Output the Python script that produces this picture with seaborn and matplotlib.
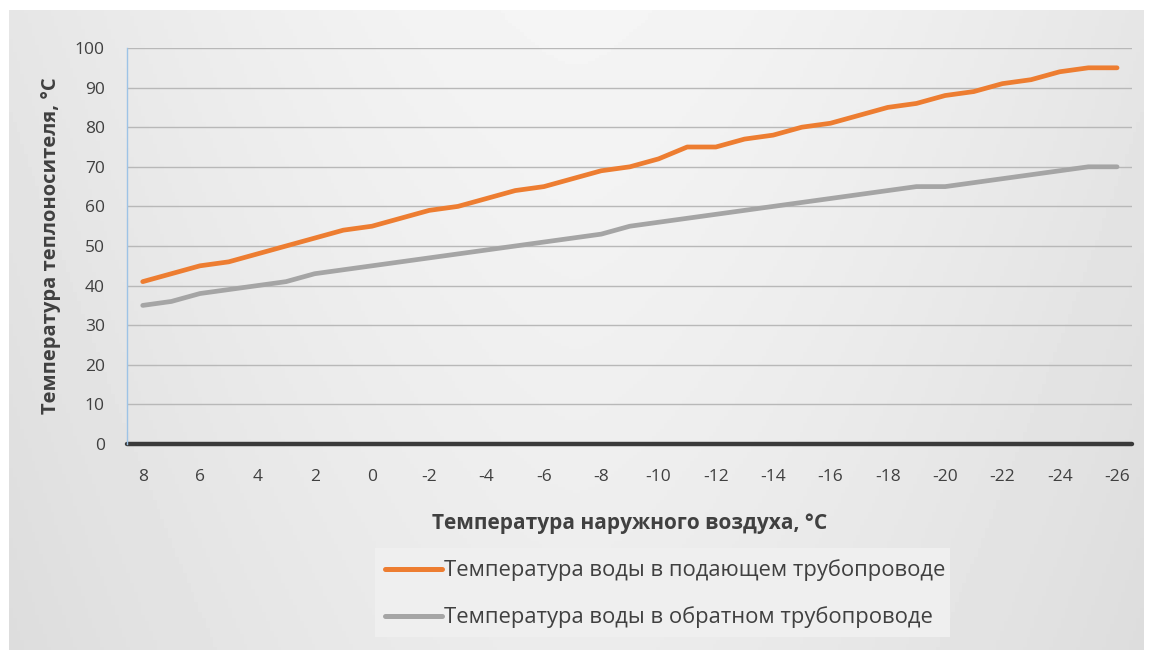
import numpy as np
import pandas as pd
import seaborn as sns
import matplotlib.pyplot as plt
from matplotlib.patches import Rectangle

# outdoor air temperature, °C
t_outdoor = list(range(8, -27, -1))
# supply pipe water temperature, °C
t_supply = [41, 43, 45, 46, 48, 50, 52, 54, 55, 57, 59, 60, 62, 64, 65, 67, 69, 70,
            72, 75, 75, 77, 78, 80, 81, 83, 85, 86, 88, 89, 91, 92, 94, 95, 95]
# return pipe water temperature, °C
t_return = [35, 36, 38, 39, 40, 41, 43, 44, 45, 46, 47, 48, 49, 50, 51, 52, 53, 55,
            56, 57, 58, 59, 60, 61, 62, 63, 64, 65, 65, 66, 67, 68, 69, 70, 70]

label_supply = 'Температура воды в подающем трубопроводе'
label_return = 'Температура воды в обратном трубопроводе'

df = pd.DataFrame({
    'x': t_outdoor * 2,
    'y': t_supply + t_return,
    'series': [label_supply] * len(t_outdoor) + [label_return] * len(t_outdoor),
})

sns.set_style('white')
plt.rcParams['font.family'] = ['Open Sans', 'DejaVu Sans']
plt.rcParams['axes.unicode_minus'] = False

fig = plt.figure(figsize=(11.52, 6.63), dpi=100)
fig.patch.set_facecolor('white')

# gradient background of the chart area
bg = fig.add_axes([0.008, 0.02, 0.985, 0.965])
grad_x = np.linspace(-1, 1, 300)
grad_y = np.linspace(0, 1, 200)
gx, gy = np.meshgrid(grad_x, grad_y)
shade = 0.96 - 0.06 * np.abs(gx) ** 1.5 - 0.035 * gy
bg.imshow(shade, cmap='gray', vmin=0, vmax=1, aspect='auto', extent=[0, 1, 0, 1])
bg.set_axis_off()

ax = fig.add_axes([0.1102, 0.3303, 0.8724, 0.5973])
ax.set_facecolor('none')

sns.lineplot(data=df, x='x', y='y', hue='series',
             palette={label_supply: '#ED7D31', label_return: '#A5A5A5'},
             linewidth=3.4, ax=ax, legend=False)

ax.set_xlim(8.55, -26.52)
ax.set_ylim(0, 100)
ax.set_yticks(range(0, 101, 10))
ax.set_xticks(range(8, -27, -2))
ax.yaxis.grid(True, color='#b8b8b8', linewidth=1.0)
ax.set_axisbelow(True)
for s in ['top', 'right', 'bottom']:
    ax.spines[s].set_visible(False)
ax.spines['left'].set_color('#9dc3e6')
ax.spines['left'].set_linewidth(1.0)
ax.axhline(0, color='#3a3a3a', linewidth=3.2, clip_on=False, zorder=1)

ax.tick_params(axis='both', length=0, labelsize=12.5, labelcolor='#404040')
ax.tick_params(axis='x', pad=18)
ax.tick_params(axis='y', pad=16)

ax.set_xlabel('Температура наружного воздуха, °С', fontsize=15,
              fontweight='bold', color='#404040', labelpad=20)
ax.set_ylabel('Температура теплоносителя, °С', fontsize=14.5,
              fontweight='bold', color='#404040', labelpad=10)

# legend box
fig.patches.append(Rectangle((375 / 1152, 1 - 637 / 663), 575 / 1152, 89 / 663,
                             transform=fig.transFigure, facecolor='#efefef',
                             edgecolor='none', zorder=0))
handles = [plt.Line2D([], [], color='#ED7D31', linewidth=3.6),
           plt.Line2D([], [], color='#A5A5A5', linewidth=3.6)]
fig.legend(handles, [label_supply, label_return], loc='center',
           bbox_to_anchor=(665 / 1152, 1 - 594 / 663), frameon=False,
           fontsize=15.8, handlelength=2.6, handletextpad=0.1,
           labelspacing=1.15, labelcolor='#404040')

fig.savefig('out.png', dpi=100)
